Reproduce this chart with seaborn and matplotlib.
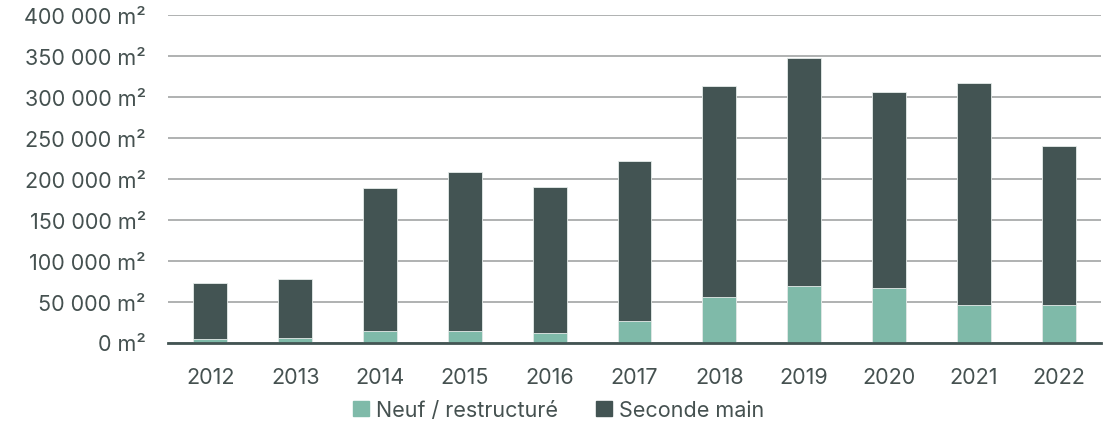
import pandas as pd
import seaborn as sns
import matplotlib.pyplot as plt
from matplotlib.patches import Patch
from matplotlib.ticker import FuncFormatter, MultipleLocator

# values (m²)
years = ["2012", "2013", "2014", "2015", "2016", "2017", "2018", "2019", "2020", "2021", "2022"]
neuf = [4300, 5100, 14400, 14000, 11200, 26300, 55200, 68600, 66600, 46200, 45800]
seconde_main = [68000, 72100, 174300, 193800, 178300, 195000, 258100, 278900, 239700, 270700, 194600]

light = "#7fbaa9"
dark = "#435453"
text_col = "#455150"

df = pd.DataFrame({"annee": years, "neuf": neuf, "seconde": seconde_main})
df["total"] = df["neuf"] + df["seconde"]

sns.set_style("white")
plt.rcParams["font.family"] = ["Inter", "DejaVu Sans"]

fig = plt.figure(figsize=(11.17, 4.27), dpi=100)
ax = fig.add_axes([168 / 1117, 1 - 343.5 / 427, 933 / 1117, 327.5 / 427])

sns.barplot(data=df, x="annee", y="total", color=dark, width=0.4,
            edgecolor="#e6ecea", linewidth=0.6, saturation=1, ax=ax, zorder=3)
sns.barplot(data=df, x="annee", y="neuf", color=light, width=0.4,
            edgecolor="#e6ecea", linewidth=0.6, saturation=1, ax=ax, zorder=4)

ax.set_ylim(0, 400000)
ax.set_xlim(-0.5, 10.5)
ax.yaxis.set_major_locator(MultipleLocator(50000))
ax.yaxis.set_major_formatter(FuncFormatter(lambda v, p: f"{int(v):,}".replace(",", " ") + " m²"))
ax.grid(axis="y", color="#9a9d9d", linewidth=1.1, zorder=0)
ax.set_axisbelow(True)
for s in ["top", "right", "left"]:
    ax.spines[s].set_visible(False)
ax.spines["bottom"].set_color(dark)
ax.spines["bottom"].set_linewidth(2)
ax.spines["bottom"].set_zorder(5)
ax.set_xlabel("")
ax.set_ylabel("")
ax.tick_params(axis="y", length=0, pad=16, labelsize=15.5, labelcolor=text_col)
ax.tick_params(axis="x", length=0, pad=18, labelsize=15.5, labelcolor=text_col)

handles = [Patch(color=light, label="Neuf / restructuré"), Patch(color=dark, label="Seconde main")]
fig.legend(handles=handles, loc="center", bbox_to_anchor=(0.5, 1 - 411 / 427), ncol=2,
           frameon=False, fontsize=15.5, labelcolor=text_col, handlelength=0.75, handleheight=0.75,
           handletextpad=0.3, columnspacing=1.8)

fig.savefig("out.png", dpi=100)
